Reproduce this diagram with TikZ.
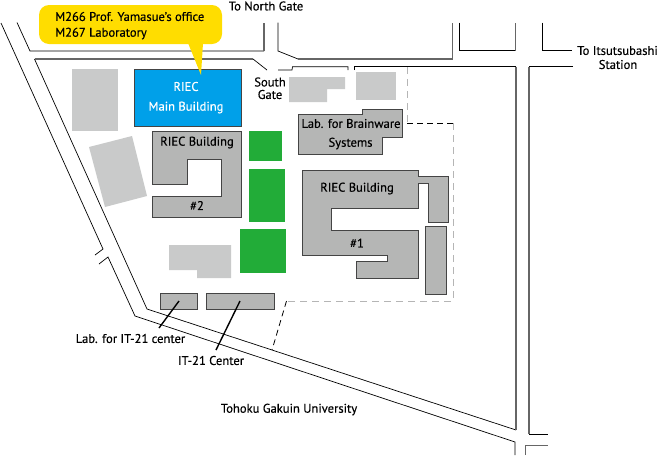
\documentclass[tikz,border=0pt]{standalone}
\usepackage{fontspec}
\setmainfont[RawFeature={embolden=0.35}]{PT Sans}
\definecolor{bldg}{HTML}{B5B6B5}
\definecolor{lightb}{HTML}{C9CACA}
\definecolor{riecblue}{HTML}{00A0E9}
\definecolor{grn}{HTML}{22AC38}
\definecolor{callout}{HTML}{FFDD00}
\definecolor{edge}{HTML}{444444}
\definecolor{roadg}{HTML}{666666}
\definecolor{dashg}{HTML}{B5B5B5}
\tikzset{
 road/.style={draw=black,line width=0.7pt,line join=miter},
 roadgray/.style={draw=roadg,line width=1.3pt},
 bld/.style={fill=bldg,draw=edge,line width=0.9pt},
 light/.style={fill=lightb},
 green area/.style={fill=grn},
 lab/.style={font=\fontsize{12.6}{14}\selectfont,inner sep=0pt,text=black,align=center},
 dashblack/.style={draw=black,line width=0.8pt,dash pattern=on 6pt off 4pt},
 dashgray/.style={draw=dashg,line width=0.9pt,dash pattern=on 7pt off 5pt},
 leader/.style={draw=black,line width=1.4pt},
}
\begin{document}
\begin{tikzpicture}[x=1pt,y=-1pt]
\useasboundingbox (0,0) rectangle (660,456);
% roads
\draw[road] (1,23) -- (103,249) -- (95,255);
\draw[road] (99,264) -- (108,257) -- (135,316) -- (515,442) -- (515,455);
\draw[road] (17,22.5) -- (30,51) -- (264,51);
\draw[roadgray] (264,51) -- (264,22.5);
\draw[road] (34.5,59) -- (147,309) -- (516,430);
\draw[roadgray] (34.5,59) -- (253,59);
\draw[road] (253,59) -- (267,70);
\draw[road] (278,70) -- (292,70) -- (292.5,66.7) -- (348,66.7) -- (348,70);
\draw[road] (354,70) -- (354,66.7) -- (516,66.7);
\draw[roadgray] (516,66.7) -- (516,430);
\draw[road] (278,22.5) -- (278,51) -- (298,59);
\draw[roadgray] (298,59) -- (452.7,59) -- (452.7,22.5);
\draw[road] (459,22.5) -- (459,50.5) -- (515.7,50.5);
\draw[roadgray] (515.7,50.5) -- (515.7,22.5);
\draw[road] (542,22.5) -- (542,50) -- (572,50);
\draw[road] (573,66.7) -- (529,66.7);
\draw[roadgray] (529,66.7) -- (529,434);
\draw[road] (529,434) -- (548,434);
\draw[roadgray] (525.5,455) -- (525.5,445.5) -- (548,445.5);
% campus boundary
\draw[dashgray] (407,67) -- (407,122);
\draw[dashblack] (407,123) -- (453,123);
\draw[dashgray] (453,123) -- (453,301) -- (287,301);
\draw[dashblack] (286.5,301) -- (272,350);
% light buildings
\fill[light] (72,69) rectangle (118,131);
\fill[light] (89,147) -- (132,136) -- (147,196) -- (105,207) -- cycle;
\fill[light] (169,245) -- (231,245) -- (231,278) -- (197,278) -- (197,270) -- (169,270) -- cycle;
\fill[light] (289,77) -- (345,77) -- (345,89) -- (327,89) -- (327,102) -- (289,102) -- cycle;
\fill[light] (356,72) rectangle (396,100);
% green
\fill[green area] (249,131) rectangle (282,161);
\fill[green area] (249,169) rectangle (285,222);
\fill[green area] (240,229) rectangle (286,273);
% main building
\filldraw[fill=riecblue,draw=edge,line width=0.9pt] (134,69) rectangle (241,126);
% buildings
\draw[bld] (152,131) -- (241,131) -- (241,217) -- (152,217) -- (152,196) -- (221,196) -- (221,159) -- (187,159) -- (187,184) -- (152,184) -- cycle;
\draw[bld] (298,114) -- (362,114) -- (362,109) -- (402,109) -- (402,137) -- (382,137) -- (382,154) -- (298,154) -- cycle;
\draw[bld] (302,170) -- (418,170) -- (418,176) -- (448,176) -- (448,222) -- (428,222) -- (428,183) -- (418,183) -- (418,208) -- (331,208) -- (331,230) -- (418,230) -- (418,278) -- (356,278) -- (356,261) -- (387,261) -- (387,255) -- (302,255) -- cycle;
\draw[bld] (425,226) rectangle (446,294);
\draw[bld] (160,293) rectangle (197,309);
\draw[bld] (206,293) rectangle (274,309);
% callout
\fill[callout,rounded corners=10pt] (39,5) rectangle (222,44);
\fill[callout] (188,43) -- (201,75) -- (203,43) -- cycle;
% labels
\node[lab,anchor=west] (office) at (55,16.5) {M266 Prof. Yamasue’s office};
\node[lab,anchor=west] (labm) at (55,33.5) {M267 Laboratory};
\node[lab] (north) at (266,6) {To North Gate};
\node[lab] (itsu) at (617.5,50.5) {To Itsutsubashi};
\node[lab] (stat) at (618,64.5) {Station};
\node[lab] (south) at (270,82) {South};
\node[lab] (gate) at (270,94.5) {Gate};
\node[lab,text=white] (riec) at (186,86.5) {RIEC};
\node[lab,text=white] (mainb) at (186,107.5) {Main Building};
\node[lab] (b2a) at (197,142.5) {RIEC Building};
\node[lab] (b2b) at (197,205.5) {\#2};
\node[lab] (brain) at (351,123.5) {Lab. for Brainware};
\node[lab] (sys) at (350.5,143.5) {Systems};
\node[lab] (b1a) at (357,188.5) {RIEC Building};
\node[lab] (b1b) at (357,243) {\#1};
\node[lab] (labit) at (130.5,338.5) {Lab. for IT-21 center};
\node[lab] (itc) at (211,360.5) {IT-21 Center};
\node[lab] (tohoku) at (289,409.5) {Tohoku Gakuin University};
% leaders
\coordinate (la) at (179,301);
\coordinate (lb) at (159,328);
\coordinate (ia) at (240,301);
\coordinate (ib) at (216,350);
\draw[leader] (la) -- (lb);
\draw[leader] (ia) -- (ib);
\end{tikzpicture}
\end{document}
